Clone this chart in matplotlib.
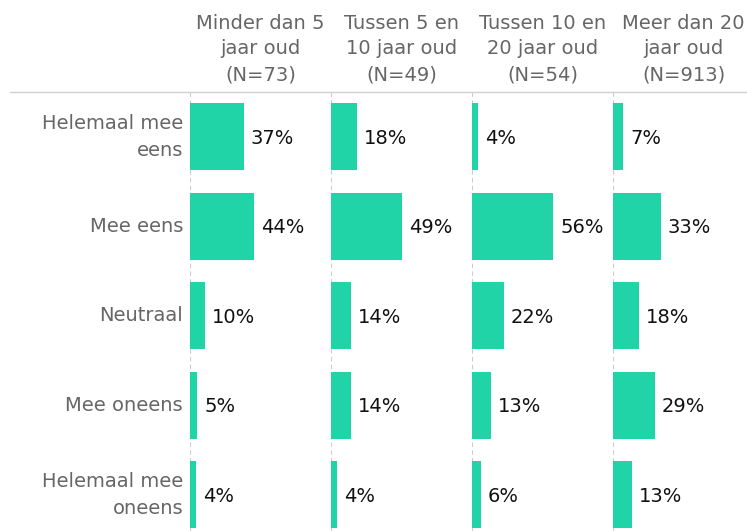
import matplotlib
matplotlib.use("Agg")
import matplotlib.pyplot as plt

categories = ["Helemaal mee\neens", "Mee eens", "Neutraal", "Mee oneens", "Helemaal mee\noneens"]
groups = ["Minder dan 5\njaar oud\n(N=73)", "Tussen 5 en\n10 jaar oud\n(N=49)",
          "Tussen 10 en\n20 jaar oud\n(N=54)", "Meer dan 20\njaar oud\n(N=913)"]
values = [
    [37, 44, 10, 5, 4],
    [18, 49, 14, 14, 4],
    [4, 56, 22, 13, 6],
    [7, 33, 18, 29, 13],
]

W, H = 747, 531
fig = plt.figure(figsize=(W / 100, H / 100), dpi=100)
bar_color = "#21d4a8"
gray = "#666666"

x0 = 190
pw = 141
top = 92
row_h = 89.5
n = len(categories)
ax_h = n * row_h
px_per = 1.45
fs = 14
for i, (g, vals) in enumerate(zip(groups, values)):
    left = x0 + i * pw
    ax = fig.add_axes([left / W, (H - top - ax_h) / H, pw / W, ax_h / H])
    ys = list(range(n))
    ax.barh(ys, vals, height=0.75, color=bar_color)
    ax.set_ylim(n - 0.5, -0.5)
    ax.set_xlim(0, pw / px_per)
    ax.axvline(0, color="#cccccc", lw=0.8, ls=(0, (4, 3)), zorder=0)
    for y, v in zip(ys, vals):
        ax.annotate(f"{v}%", xy=(v, y), xytext=(5, -1), textcoords="offset points",
                    va="center", ha="left", fontsize=fs, color="#111111")
    for s in ax.spines.values():
        s.set_visible(False)
    ax.set_xticks([])
    if i == 0:
        ax.set_yticks(ys)
        ax.set_yticklabels(categories, fontsize=fs, color=gray, linespacing=1.55, va="center")
        ax.tick_params(axis="y", length=0, pad=5)
    else:
        ax.set_yticks([])
    fig.text((left + pw / 2) / W, (H - 49) / H, g, ha="center", va="center",
             fontsize=fs, color=gray, linespacing=1.45)

fig.add_artist(plt.Line2D([10 / W, 1.0], [(H - top) / H] * 2, color="#d0d0d0", lw=1.0))
fig.savefig("out.png", dpi=100)
